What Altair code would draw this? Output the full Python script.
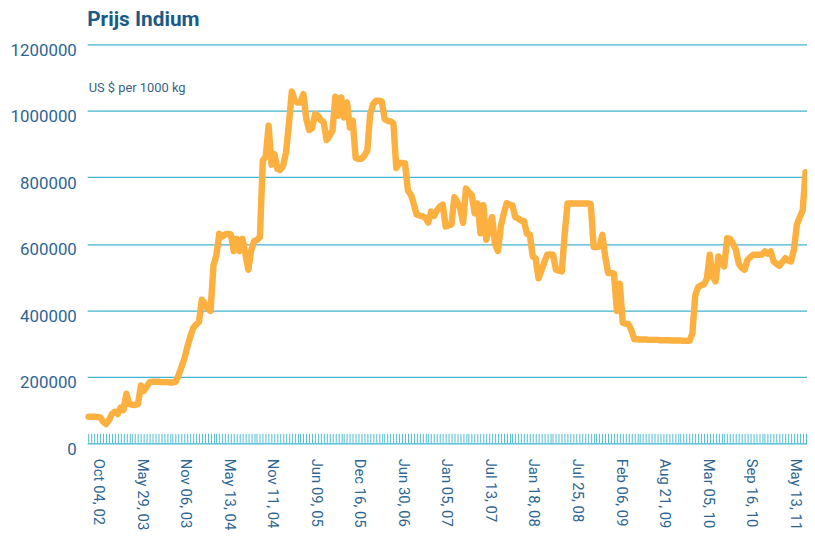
import altair as alt
import pandas as pd

# Tick labels shown every LABEL_EVERY observations
dates = ["Oct 04, 02", "May 29, 03", "Nov 06, 03", "May 13, 04", "Nov 11, 04",
         "Jun 09, 05", "Dec 16, 05", "Jun 30, 06", "Jan 05, 07", "Jul 13, 07",
         "Jan 18, 08", "Jul 25, 08", "Feb 06, 09", "Aug 21, 09", "Mar 05, 10",
         "Sep 16, 10", "May 13, 11"]
LABEL_EVERY = 15

prices = [
    80000, 80000, 80000, 79000, 78000, 65000, 58000, 70000, 88000, 95000,
    88000, 107000, 100000, 149000, 118000, 116000, 115000, 118000, 174000, 158000,
    170000, 184000, 185000, 185000, 185000, 184000, 184000, 184000, 183000, 183000,
    185000, 205000, 230000, 255000, 290000, 320000, 346000, 357000, 365000, 432000,
    420000, 405000, 398000, 535000, 565000, 630000, 622000, 628000, 630000, 628000,
    578000, 615000, 578000, 615000, 570000, 522000, 580000, 608000, 612000, 620000,
    850000, 862000, 955000, 838000, 870000, 825000, 822000, 835000, 875000, 960000,
    1058000, 1030000, 1025000, 1025000, 1050000, 975000, 942000, 948000, 990000, 985000,
    972000, 965000, 912000, 925000, 940000, 1042000, 985000, 1040000, 980000, 1025000,
    950000, 970000, 858000, 855000, 856000, 865000, 880000, 990000, 1020000, 1030000,
    1030000, 1028000, 975000, 970000, 968000, 962000, 828000, 843000, 843000, 842000,
    760000, 748000, 720000, 688000, 685000, 683000, 678000, 664000, 697000, 684000,
    700000, 712000, 718000, 652000, 655000, 658000, 740000, 725000, 707000, 663000,
    766000, 755000, 746000, 692000, 721000, 632000, 716000, 612000, 650000, 680000,
    600000, 578000, 652000, 690000, 722000, 718000, 715000, 680000, 676000, 670000,
    668000, 630000, 628000, 562000, 556000, 496000, 520000, 545000, 567000, 568000,
    567000, 522000, 519000, 517000, 628000, 721000, 721000, 721000, 721000, 721000,
    721000, 721000, 721000, 720000, 590000, 590000, 592000, 627000, 560000, 512000,
    512000, 510000, 398000, 480000, 363000, 360000, 358000, 340000, 313000, 313000,
    312000, 312000, 312000, 311000, 311000, 311000, 311000, 310000, 310000, 310000,
    310000, 309000, 309000, 309000, 309000, 308000, 308000, 308000, 330000, 445000,
    470000, 475000, 478000, 495000, 567000, 500000, 487000, 562000, 545000, 532000,
    617000, 614000, 600000, 582000, 540000, 527000, 522000, 552000, 560000, 567000,
    567000, 567000, 568000, 577000, 570000, 577000, 547000, 540000, 534000, 545000,
    557000, 550000, 547000, 582000, 657000, 680000, 700000, 815000,
]

y_ticks = [0, 200000, 400000, 600000, 800000, 1000000, 1200000]

df = pd.DataFrame({"i": list(range(len(prices))), "price": prices})

label_js = "[" + ",".join("'" + d + "'" for d in dates) + "]"
label_expr = (f"datum.value % {LABEL_EVERY} === 0 ? "
              f"{label_js}[datum.value / {LABEL_EVERY}] : ''")

FONT = "Roboto"
TEXT_BLUE = "#2d6592"
GRID = "#41b5d1"

chart = alt.Chart(df).mark_line(
    color="#fbb040", strokeWidth=6.5, strokeJoin="round", strokeCap="round"
).encode(
    x=alt.X(
        "i:Q",
        scale=alt.Scale(domain=[-0.5, len(prices) - 0.5], nice=False, zero=False),
        axis=alt.Axis(
            values=list(range(len(prices))),
            labelExpr=label_expr,
            labelAngle=90,
            labelOverlap=False,
            labelFlush=False,
            labelBound=False,
            labelFont=FONT,
            labelFontSize=15,
            labelColor=TEXT_BLUE,
            labelPadding=15,
            labelOffset=10,
            domain=False,
            grid=False,
            ticks=True,
            tickColor="#4fbdd7",
            tickSize=10,
            tickWidth=1,
            offset=-10,
            title=None,
        ),
    ),
    y=alt.Y(
        "price:Q",
        scale=alt.Scale(domain=[0, 1200000], nice=False),
        axis=alt.Axis(
            values=y_ticks,
            format="d",
            labelFont=FONT,
            labelFontSize=17,
            labelColor=TEXT_BLUE,
            labelPadding=11,
            labelOffset=6,
            domain=False,
            ticks=False,
            grid=True,
            gridColor=GRID,
            gridWidth=1.2,
            title="US $ per 1000 kg",
            titleAngle=0,
            titleX=1,
            titleY=44,
            titleAlign="left",
            titleBaseline="middle",
            titleFont=FONT,
            titleFontSize=13,
            titleFontWeight="normal",
            titleColor="#3b6283",
        ),
    ),
).properties(
    width=727,
    height=403,
    title=alt.Title(
        "Prijs Indium",
        anchor="start",
        frame="group",
        font=FONT,
        fontSize=21,
        fontWeight="bold",
        color="#1b5a87",
        baseline="alphabetic",
        offset=15,
        dy=21,
    ),
    autosize=alt.AutoSizeParams(type="none"),
    padding={"left": 80, "top": 34, "right": 0, "bottom": 93},
).configure_view(stroke=None)

chart.save("out.html", embed_options={"renderer": "svg", "actions": False})
